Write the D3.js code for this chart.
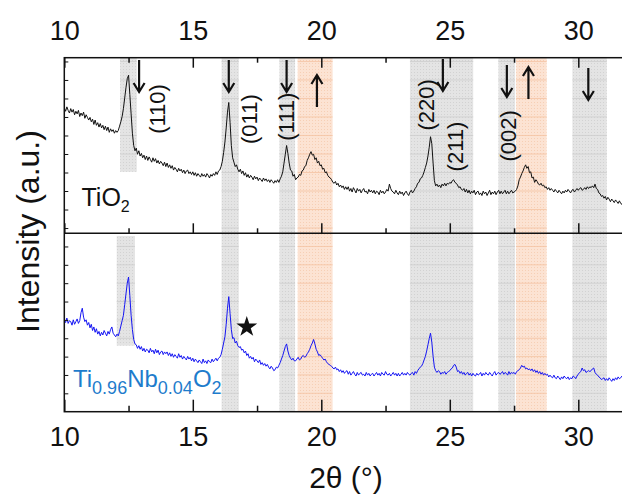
<!DOCTYPE html>
<html>
<head>
<meta charset="utf-8">
<script src="https://cdn.jsdelivr.net/npm/d3@7"></script>
<style>
  body { margin: 0; background: #fff; }
  svg { display: block; }
  text { font-family: "Liberation Sans", Arial, sans-serif; fill: #111; }
</style>
</head>
<body>
<svg id="chart"></svg>
<script>
// XRD scans: start 10°, step 0.05°, intensity in a.u. (0–100 per panel)
const scanStart = 10, scanStep = 0.05;

const tio2Counts = [
  71.5,69.5,72,70,68.5,71,69,70.5,67.5,69.5,68,70,66.5,68.5,67,69,65.5,67.5,66,64.5,
  66,63.5,65,62,64.5,61.5,63,60.5,62.5,60,61.5,59,61,58.5,60.5,57.5,59.5,58,59,57,
  58.5,57.5,58.5,61,63.5,66.5,71,77,83,88,90,79,68,57,50,47,48.5,45,47,44,
  45.5,43,44.5,42,44,41.5,43.5,42,40.5,43,41,42.5,40,41.5,39.5,41,40,38.5,40.5,38,
  40,37.5,39,37,38.5,36,37.5,36.5,35,37,35.5,36.5,34.5,36,34,35.5,36,34,35,33.5,
  35,33,34.5,32.5,34,33,32,34,32.5,33.5,32,34,33,31.5,33.5,32.5,34,33,35,33.5,
  35.5,36,38,41,46,52,60,69,74.5,63,50,43,40.5,38,39,36.5,35,36.5,34,35.5,
  33,34.5,32,33.5,31.5,33,32,30.5,32.5,31,32,30,31.5,30.5,29.5,31.5,30,31,29.5,30.5,
  29,30.5,29.5,28.5,30,29,30.5,29,31,32.5,35,40,45,50,45.5,40,36,35.5,32.5,33.5,
  30.5,31.5,32,33.5,33,35.5,36,38,38.5,41.5,43,45,46.5,44.5,45,42,43,40,41,38.5,
  39,36.5,37,34.5,35,33,32,31.5,30.5,29,28.5,29.5,27.5,28.5,26.5,27.5,26,27,25,26.5,
  25,26.5,24,25.5,23.5,26,24.5,23,25.5,24,25,23,24.5,25.5,23.5,24,22.5,25,23.5,24.5,
  23,24.5,22.5,24,23.5,22,24.5,23,24,22.5,23.5,25,24,28,25.5,24,23.5,22.5,24.5,23,
  22,24,22.5,23.5,21.5,23,24,22.5,21.5,23.5,24.5,23,24,25.5,26.5,28.5,29,31,31.5,33,
  35,37.5,40,44,49,55,51,40,30,27,28,26.5,27.5,26,28,27,28.5,27,28.5,28,
  29,28.5,30,30.5,29,28.5,27.5,26,26.5,25,24.5,25.5,23.5,25,23,24.5,22.5,24,23,24.5,
  22,23.5,24,22,23,21.5,24,22.5,23.5,21.5,23,24.5,22,23.5,22.5,24,22,23.5,24.5,22.5,
  24,22.5,23.5,24.5,22.5,24,22.5,23.5,24.5,23,23.5,24,25,27,30.5,32,34,35.5,37.5,39,
  37,38,34.5,35,31.5,32,29,30.5,29.5,28,27.5,28.5,27,27.5,26,26.5,25,26,24.5,25.5,
  24.5,23.5,25,24,23,24.5,23.5,22.5,24,23,24.5,23.5,25,24,23,24.5,25,23.5,24.5,25.5,
  24.5,25.5,26,24.5,25,26,25,26.5,25.5,26.5,26,27,26,28,25.5,25,23,22.5,21,21.5,
  20,21,19,20.5,19.5,18,19.5,18.5,17.5,19,18,17,18.5,17,16.5,18,17.5
];

const nbDopedCounts = [
  51.5,50,52.5,49.5,51,50.5,48.5,51.5,49,50.5,52,49.5,51,55.5,58,53,50.5,51.5,48.5,50,
  47,49,45.5,47.5,44.5,46.5,43.5,45,42.5,44.5,43,45.5,44,42.5,45,43.5,46,47.5,44,43,
  42,43.5,42.5,45,48,51,54,60,66,72,75.5,65,54,46,40.5,38,37.5,35.5,37,35,
  36.5,34,35.5,33.5,35,34.5,33,35.5,33.5,34.5,32.5,35,33,34.5,32,33.5,34,32,33.5,32.5,
  33.5,31.5,33,31,32.5,30.5,32,31,30,32.5,30.5,31.5,29.5,31,30,29,31,29.5,30.5,28.5,
  30,28,29.5,28.5,27.5,29,28,27,29.5,27.5,28.5,27,29,28,27.5,29.5,28,29,30,28.5,
  30,30.5,32,35,38.5,42,49,58,64.5,55,46,41,41.5,38.5,39.5,37,36,36.5,34.5,35,
  33,34,31.5,32.5,30,31,29.5,30.5,28,29.5,28.5,27.5,29,26.5,27.5,26,27,25.5,26.5,25,
  24,25.5,24.5,23,23.5,25,24.5,26,27.5,29.5,31.5,34,36.5,38,34,31.5,30,29,30,28.5,
  28.5,29.5,30.5,29,29.5,31,31.5,30.5,31,32.5,33.5,35,37,38.5,40.5,38,35,33.5,31.5,32,
  31,30,29,29.5,28,27,26.5,26,25.5,24.5,24,25,23.5,24,22.5,23.5,22,23,21.5,22.5,
  23,21,22.5,20.5,21.5,22.5,21,20,22,20.5,21.5,22,20.5,21,20,22,20.5,21.5,20,21,
  21.5,20,21,22,20.5,21.5,20,22,21,20.5,22.5,21,20.5,21.5,20,21,22,20.5,21.5,20,
  21.5,20,21,22,20.5,21.5,20.5,22,21,20.5,21.5,22,20.5,22.5,21.5,23,24,25,25.5,27,
  29,31,34,37.5,41,44,39,31,25,23,22,23,22.5,21,22,21.5,22.5,21,22,22.5,
  23,24,24.5,26,26.5,25,22.5,23,21.5,22.5,21,22,20.5,21.5,22,20.5,21.5,20,21.5,20.5,
  20,21.5,20.5,21,22,20,21.5,20.5,22,21,20.5,22,21,20,21.5,22.5,20.5,21.5,22,21,
  21.5,22.5,21,22,21.5,20.5,22.5,21,22,21.5,22,21,22.5,23,23.5,24.5,26,25,25.5,24,
  24.5,23.5,24,23,24,22.5,23.5,22,23,21.5,22.5,21,22,20.5,21.5,20.5,21,19.5,20.5,19.5,
  19,20.5,19,18.5,20,19,18,19.5,18.5,20,19,18.5,19.5,18,19,18.5,20,19.5,18.5,20,
  21,22,22.5,24.5,23,23.5,22,22.5,23,22.5,23,24,24.5,22,21,20.5,19.5,19,18,18.5,
  19,17.5,18.5,17.5,19,18,17,18.5,17.5,19,18,19.5,18.5,19,20,19,20
];

// shaded 2θ ranges
const grayBands = [[16.12, 16.79], [18.37, 18.98], [23.45, 25.91], [26.89, 27.54], [29.77, 31.11]];
const orangeBands = [[19.08, 20.44], [27.58, 28.77]];
// the (110) band is short and shifted a little between panels: [lo, hi, fromValue, toValue]
const shortBandTop = [12.17, 12.82, 35, 100];
const shortBandBottom = [12.04, 12.75, 37, 98.5];

// reflections
const hklLabels = ["(110)", "(011)", "(111)", "(220)", "(211)", "(002)"];
const hklX = [13.64, 17.19, 18.65, 24.10, 25.24, 27.28];
const hklY = [70.8, 65, 66.4, 73.1, 49.4, 55.5];
const arrowDownX = [12.91, 16.40, 18.65, 24.73, 27.22, 30.39];
const arrowUpX = [19.83, 28.06];
const starPos = [17.10, 47.5];

const xTicks = [10, 15, 20, 25, 30];
const xMinorTicks = [12.5, 17.5, 22.5, 27.5];

// layout
const width = 622, height = 495;
const L = 64.3, R = 629.7, T = 57.7, MID = 233.3, B = 411.7;
const ARROW_LEN = 32;
const arrowDownTop = [60, 60, 60, 59, 65, 68];
const arrowUpTop = [75, 67];

const toPoints = counts => counts.map((v, i) => [scanStart + i * scanStep, v]);
const tio2 = toPoints(tio2Counts);
const nbDoped = toPoints(nbDopedCounts);

const svg = d3.select("#chart").attr("width", width).attr("height", height);

const x = d3.scaleLinear().domain([10, 32]).range([L, R]);
const yTop = d3.scaleLinear().domain([0, 100]).range([MID, T]);
const yBot = d3.scaleLinear().domain([0, 100]).range([B, MID]);

const defs = svg.append("defs");
function dotPattern(id, base, dot) {
  const p = defs.append("pattern").attr("id", id)
    .attr("width", 3).attr("height", 3).attr("patternUnits", "userSpaceOnUse");
  p.append("rect").attr("width", 3).attr("height", 3).attr("fill", base);
  p.append("rect").attr("width", 1).attr("height", 1).attr("fill", dot);
}
dotPattern("grayDots", "#e4e4e4", "#d2d2d2");
dotPattern("orangeDots", "#fce3d3", "#f6cfb5");

defs.append("clipPath").attr("id", "clipTop")
  .append("rect").attr("x", L).attr("y", T).attr("width", R - L).attr("height", MID - T);
defs.append("clipPath").attr("id", "clipBot")
  .append("rect").attr("x", L).attr("y", MID).attr("width", R - L).attr("height", B - MID);

// faint horizontal lines inside the bands (same as left minor ticks)
const topLines = d3.range(3, 100, 10.54);
const botLines = d3.range(10.3, 100, 10.29);

function drawBands(g, y, shortBand, lines) {
  const all = [
    ...grayBands.map(b => ({ lo: b[0], hi: b[1], v0: 0, v1: 100, kind: "gray" })),
    ...orangeBands.map(b => ({ lo: b[0], hi: b[1], v0: 0, v1: 100, kind: "orange" })),
    { lo: shortBand[0], hi: shortBand[1], v0: shortBand[2], v1: shortBand[3], kind: "gray" }
  ];
  g.selectAll("rect.band").data(all).join("rect")
    .attr("class", "band")
    .attr("x", d => x(d.lo)).attr("width", d => x(d.hi) - x(d.lo))
    .attr("y", d => y(d.v1)).attr("height", d => y(d.v0) - y(d.v1))
    .attr("fill", d => d.kind === "gray" ? "url(#grayDots)" : "url(#orangeDots)");
  all.forEach(d => {
    g.append("g").selectAll("line")
      .data(lines.filter(v => v >= d.v0 && v <= d.v1))
      .join("line")
      .attr("x1", x(d.lo)).attr("x2", x(d.hi))
      .attr("y1", v => y(v)).attr("y2", v => y(v))
      .attr("stroke", d.kind === "gray" ? "#cdcdcd" : "#f4c3a2")
      .attr("stroke-width", 0.8);
  });
}

const gTop = svg.append("g").attr("clip-path", "url(#clipTop)");
const gBot = svg.append("g").attr("clip-path", "url(#clipBot)");
drawBands(gTop, yTop, shortBandTop, topLines);
drawBands(gBot, yBot, shortBandBottom, botLines);

// curves
gTop.append("path")
  .datum(tio2)
  .attr("d", d3.line().x(d => x(d[0])).y(d => yTop(d[1])))
  .attr("fill", "none").attr("stroke", "#111").attr("stroke-width", 1);
gBot.append("path")
  .datum(nbDoped)
  .attr("d", d3.line().x(d => x(d[0])).y(d => yBot(d[1])))
  .attr("fill", "none").attr("stroke", "#1515f2").attr("stroke-width", 1);

// frame
const frame = svg.append("g").attr("fill", "none").attr("stroke", "#111").attr("stroke-width", 1.5);
frame.append("rect").attr("x", L).attr("y", T).attr("width", R - L).attr("height", B - T);
frame.append("line").attr("x1", L).attr("x2", R).attr("y1", MID).attr("y2", MID);

// x axes
function xAxis(gen, ty, size, minor, labels, pad) {
  const g = svg.append("g").attr("transform", `translate(0,${ty})`);
  g.call(gen(x).tickValues(xTicks).tickSize(size).tickPadding(pad)
      .tickFormat(labels ? d3.format("d") : () => ""))
    .call(s => s.select(".domain").remove())
    .call(s => s.selectAll("line").attr("stroke", "#111").attr("stroke-width", 1.5))
    .call(s => s.selectAll("text").attr("font-size", 27).attr("fill", "#111")
      .style("font-family", '"Liberation Sans", Arial, sans-serif'));
  svg.append("g").attr("transform", `translate(0,${ty})`)
    .call(gen(x).tickValues(xMinorTicks).tickSize(minor).tickFormat(() => ""))
    .call(s => s.select(".domain").remove())
    .call(s => s.selectAll("line").attr("stroke", "#111").attr("stroke-width", 1.5));
}
xAxis(d3.axisTop, T, -10, -5, true, 17.7);
xAxis(d3.axisBottom, MID, -10, -5, false, 3);
xAxis(d3.axisBottom, B, -12, -6, true, 15.5);

// left minor ticks
function yTicks(y, vals) {
  svg.append("g").attr("transform", `translate(${L},0)`)
    .call(d3.axisLeft(y).tickValues(vals).tickSize(-4).tickFormat(() => ""))
    .call(s => s.select(".domain").remove())
    .call(s => s.selectAll("line").attr("stroke", "#111").attr("stroke-width", 1));
}
yTicks(yTop, topLines);
yTicks(yBot, botLines);

// arrows
const arrows = svg.append("g").attr("fill", "none").attr("stroke", "#111").attr("stroke-width", 2.2);
arrowDownX.forEach((v, i) => {
  const cx = x(v), y0 = arrowDownTop[i], y1 = y0 + ARROW_LEN;
  arrows.append("path").attr("d", `M${cx},${y0}V${y1}M${cx - 5.5},${y1 - 9}L${cx},${y1}L${cx + 5.5},${y1 - 9}`);
});
arrowUpX.forEach((v, i) => {
  const cx = x(v), y0 = arrowUpTop[i], y1 = y0 + ARROW_LEN;
  arrows.append("path").attr("d", `M${cx},${y1}V${y0}M${cx - 5.5},${y0 + 9}L${cx},${y0}L${cx + 5.5},${y0 + 9}`);
});

// hkl labels
svg.append("g").selectAll("text").data(hklLabels).join("text")
  .attr("transform", (d, i) => `translate(${x(hklX[i])},${yTop(hklY[i])}) rotate(-90)`)
  .attr("text-anchor", "middle").attr("dominant-baseline", "central")
  .attr("font-size", 22)
  .text(d => d);

// star
svg.append("path")
  .attr("d", d3.symbol(d3.symbolStar, 135)())
  .attr("transform", `translate(${x(starPos[0])},${yBot(starPos[1])})`)
  .attr("fill", "#111");

// sample labels
const t1 = svg.append("text").attr("x", 81.5).attr("y", 206).attr("font-size", 25);
t1.append("tspan").text("TiO");
t1.append("tspan").attr("font-size", 16).attr("dy", 6).text("2");

const blue = "#1e7ccc";
const t2 = svg.append("text").attr("x", 73).attr("y", 387).attr("font-size", 24).style("fill", blue);
[["Ti", 0], ["0.96", 1], ["Nb", 0], ["0.04", 1], ["O", 0], ["2", 1]].forEach(([s, sub], i, arr) => {
  const prevSub = i > 0 ? arr[i - 1][1] : 0;
  t2.append("tspan")
    .attr("font-size", sub ? 18 : 24)
    .attr("dy", sub === prevSub ? 0 : (sub ? 7 : -7))
    .style("fill", blue)
    .text(s);
});

// axis titles
svg.append("text")
  .attr("transform", `translate(38.5,231.5) rotate(-90)`)
  .attr("text-anchor", "middle").attr("font-size", 32)
  .text("Intensity (a.u.)");
svg.append("text")
  .attr("x", 346).attr("y", 488)
  .attr("text-anchor", "middle").attr("font-size", 30)
  .text("2θ (°)");
</script>
</body>
</html>
